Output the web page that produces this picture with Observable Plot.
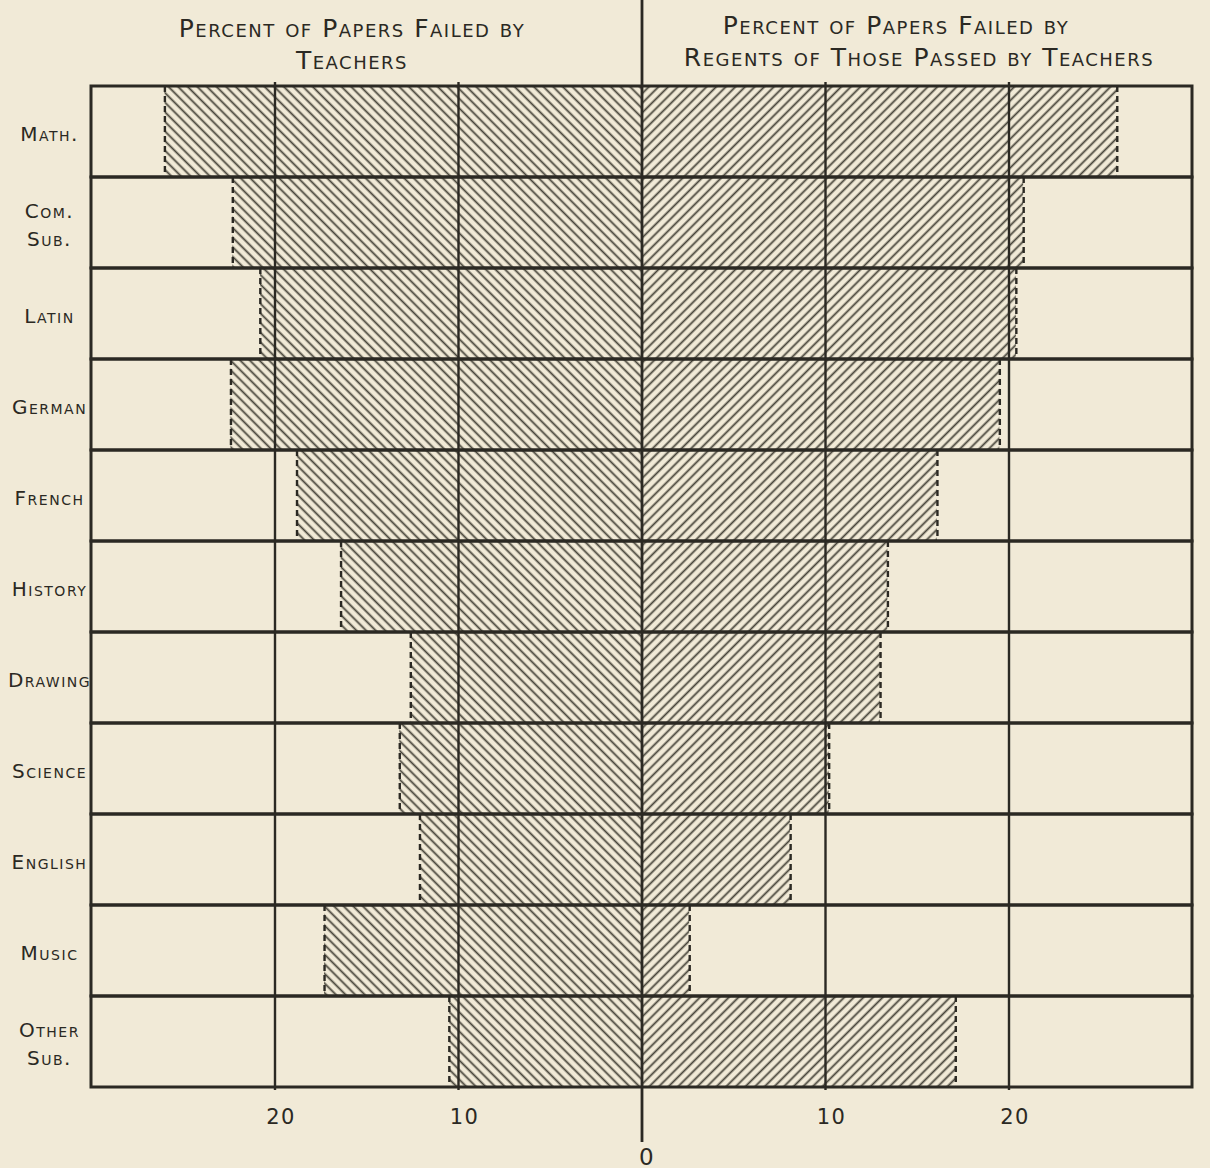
<!DOCTYPE html>
<html><head><meta charset="utf-8">
<script src="https://cdn.jsdelivr.net/npm/d3@7"></script>
<script src="https://cdn.jsdelivr.net/npm/@observablehq/plot@0.6"></script>
<style>
html,body{margin:0;padding:0;background:#f1ead7;}
#chart svg{display:block;}
#chart svg text{letter-spacing:1.5px;}
</style></head><body><div id="chart"></div>
<script>
// ---- data ----
const subjects = ["Math.", "Com.\nSub.", "Latin", "German", "French", "History", "Drawing", "Science", "English", "Music", "Other\nSub."];
const failedByTeachers = [26.0, 22.3, 20.8, 22.4, 18.8, 16.4, 12.6, 13.2, 12.1, 17.3, 10.5];
const failedByRegents  = [25.9, 20.8, 20.4, 19.5, 16.1, 13.4, 13.0, 10.2, 8.1, 2.6, 17.1];
const gridTicks = [-20, -10, 10, 20];
const tickLabels = ["20", "10", "10", "20"];
const zeroLabel = ["0"];
const xDomain = [-30, 30];
const headerLeftLines = ["Percent of Papers Failed by", "Teachers"];
const headerRightLines = ["Percent of Papers Failed by", "Regents of Those Passed by Teachers"];

const rows = subjects.map((s, i) => ({subject: s, teachers: failedByTeachers[i], regents: failedByRegents[i]}));

const ink = "#2b2923";
const paper = "#f1ead7";
const font = "'DejaVu Sans', sans-serif";

const chart = Plot.plot({
  width: 1210,
  height: 1168,
  marginTop: 82,
  marginBottom: 78,
  marginLeft: 91,
  marginRight: 18,
  style: {background: paper, fontFamily: font, color: ink},
  x: {domain: xDomain, axis: null},
  y: {domain: subjects, axis: null, padding: 0},
  marks: [
    // hatched bars
    Plot.barX(rows, {y: "subject", x1: () => 0, x2: d => -d.teachers, fill: "url(#hatchL)"}),
    Plot.barX(rows, {y: "subject", x1: () => 0, x2: "regents", fill: "url(#hatchR)"}),
    // dashed bar ends
    Plot.tickX(rows, {y: "subject", x: d => -d.teachers, stroke: ink, strokeWidth: 2.4, strokeDasharray: "6,4"}),
    Plot.tickX(rows, {y: "subject", x: "regents", stroke: ink, strokeWidth: 2.4, strokeDasharray: "6,4"}),
    // vertical grid
    Plot.ruleX(gridTicks, {stroke: ink, strokeWidth: 2.4}),
    // row boxes (frame + separators)
    Plot.barX(rows, {y: "subject", x1: () => xDomain[0], x2: () => xDomain[1], fill: "none", stroke: ink, strokeWidth: 3}),
    // center line extending above and below
    Plot.ruleX([0], {stroke: ink, strokeWidth: 2.8, insetTop: -82, insetBottom: -52}),
    // tick labels
    Plot.text(gridTicks, {x: d => d, text: (d, i) => tickLabels[i], frameAnchor: "bottom", dy: 33, dx: 6, fontSize: 21, fill: ink}),
    Plot.text([0], {x: d => d, text: () => zeroLabel[0], frameAnchor: "bottom", dy: 74, dx: 5, fontSize: 23, fill: ink}),
    // category labels
    Plot.text(rows, {y: "subject", text: "subject", frameAnchor: "left", dx: -42, textAnchor: "middle", fontSize: 20, fontVariant: "small-caps", lineHeight: 1.4, fill: ink}),
    // headers
    Plot.text([headerLeftLines[0]], {frameAnchor: "top", dx: -290, dy: -63, fontSize: 25, fontVariant: "small-caps", fill: ink}),
    Plot.text([headerLeftLines[1]], {frameAnchor: "top", dx: -290, dy: -31, fontSize: 25, fontVariant: "small-caps", fill: ink}),
    Plot.text([headerRightLines[0]], {frameAnchor: "top", dx: 254, dy: -66, fontSize: 25, fontVariant: "small-caps", fill: ink}),
    Plot.text([headerRightLines[1]], {frameAnchor: "top", dx: 277, dy: -34, fontSize: 25, fontVariant: "small-caps", fill: ink})
  ]
});

// hatch patterns
const svg = d3.select(chart);
const defs = svg.insert("defs", ":first-child");
function hatch(id, angle) {
  const s = 6.8;
  const p = defs.append("pattern")
    .attr("id", id)
    .attr("patternUnits", "userSpaceOnUse")
    .attr("width", s).attr("height", s)
    .attr("patternTransform", `rotate(${angle})`);
  p.append("rect").attr("width", s).attr("height", s).attr("fill", paper);
  p.append("line").attr("x1", s / 2).attr("y1", 0).attr("x2", s / 2).attr("y2", s)
    .attr("stroke", "#47443a").attr("stroke-width", 1.8);
}
hatch("hatchL", -45);
hatch("hatchR", 45);

document.getElementById("chart").appendChild(chart);
</script>
</body></html>
